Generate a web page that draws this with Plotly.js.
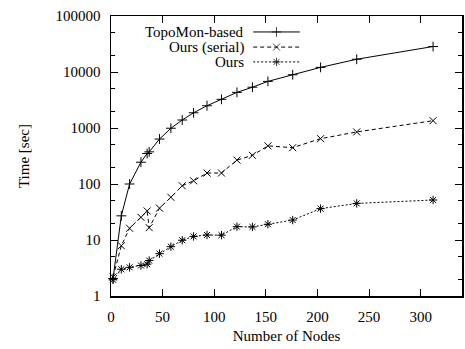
<!DOCTYPE html>
<html><head><meta charset="utf-8">
<script src="https://cdn.plot.ly/plotly-3.0.1.min.js"></script>
<style>html,body{margin:0;padding:0;background:#fff}#c{width:465px;height:349px}</style>
</head><body><div id="c"></div>
<script>
const nodes   = [2, 10, 18, 29, 35, 37, 47, 58, 69, 80, 93, 107, 122, 137, 152, 176, 203, 238, 312];
const topomon = [2.05, 27, 100, 245, 350, 375, 635, 990, 1390, 1870, 2500, 3250, 4330, 5350, 6800, 8930, 12100, 16900, 28500];
const serial  = [2.2, 7.9, 16.2, 25.4, 33, 16.6, 37, 58, 93, 114, 157, 157, 267, 325, 480, 445, 645, 850, 1350];
const ours    = [1.95, 3.0, 3.25, 3.5, 3.7, 4.3, 5.7, 7.6, 9.9, 11.6, 12.3, 12.2, 17.3, 17.1, 19.1, 22.7, 36.3, 45, 51.8];
const seriesNames = ['TopoMon-based', 'Ours (serial)', 'Ours'];
const xTicks = [0, 50, 100, 150, 200, 250, 300];
const yTicks = [1, 10, 100, 1000, 10000, 100000];
const yTickText = ['1', '10', '100', '1000', '10000', '100000'];

const styles = [
  {dash: 'solid', symbol: 'cross-thin-open', size: 7},
  {dash: '4px,3px', symbol: 'x-thin-open', size: 7},
  {dash: '2px,2px', symbol: 'asterisk-open', size: 7}
];
const ys = [topomon, serial, ours];
const font = 'Liberation Serif, Times New Roman, serif';

const traces = ys.map((y, i) => ({
  x: nodes, y: y, type: 'scatter', mode: 'lines+markers', name: seriesNames[i],
  showlegend: false,
  line: {color: '#000', width: 1, dash: styles[i].dash},
  marker: {symbol: styles[i].symbol, size: styles[i].size, color: '#000', line: {color: '#000', width: 1}},
  cliponaxis: false
}));

// legend built manually (gnuplot style: right-aligned text, sample on the right)
const legX0 = 0.405, legX1 = 0.538, legRows = [0.943, 0.889, 0.836];
const annotations = [];
ys.forEach((y, i) => {
  traces.push({
    x: [legX0, (legX0 + legX1) / 2, legX1], y: [legRows[i], legRows[i], legRows[i]],
    xaxis: 'x2', yaxis: 'y2', type: 'scatter', mode: 'lines+markers', showlegend: false, hoverinfo: 'skip',
    line: {color: '#000', width: 1, dash: styles[i].dash},
    marker: {symbol: styles[i].symbol, size: [0, styles[i].size, 0], color: '#000', line: {color: '#000', width: 1}}
  });
  annotations.push({
    xref: 'paper', yref: 'paper', x: 0.385, y: legRows[i], xanchor: 'right', yanchor: 'middle',
    text: seriesNames[i], showarrow: false, font: {family: font, size: 15, color: '#000'}
  });
});

const layout = {
  width: 465, height: 349,
  margin: {l: 111, r: 3, t: 16, b: 53},
  paper_bgcolor: '#fff', plot_bgcolor: '#fff',
  font: {family: font, size: 15, color: '#000'},
  showlegend: false,
  xaxis: {
    range: [0, 340], tickvals: xTicks, ticktext: xTicks.map(String),
    ticks: 'inside', ticklen: 7, tickwidth: 1, tickcolor: '#000',
    showline: true, linecolor: '#000', linewidth: 1.5, mirror: 'ticks',
    showgrid: false, zeroline: false, ticklabelstandoff: 6,
    title: {text: 'Number of Nodes', font: {family: font, size: 15}, standoff: 7}
  },
  yaxis: {
    type: 'log', range: [0, 5], tickvals: yTicks, ticktext: yTickText,
    ticks: 'inside', ticklen: 7, tickwidth: 1, tickcolor: '#000',
    showline: true, linecolor: '#000', linewidth: 1.5, mirror: 'ticks',
    showgrid: false, zeroline: false, ticklabelstandoff: 6,
    minor: {ticks: 'inside', ticklen: 4, tickcolor: '#000', dtick: 'D2', showgrid: false},
    title: {text: 'Time [sec]', font: {family: font, size: 15}, standoff: 22}
  },
  xaxis2: {overlaying: 'x', range: [0, 1], visible: false, fixedrange: true},
  yaxis2: {overlaying: 'y', range: [0, 1], visible: false, fixedrange: true},
  annotations: annotations
};
Plotly.newPlot('c', traces, layout, {staticPlot: true, displayModeBar: false});
</script></body></html>
